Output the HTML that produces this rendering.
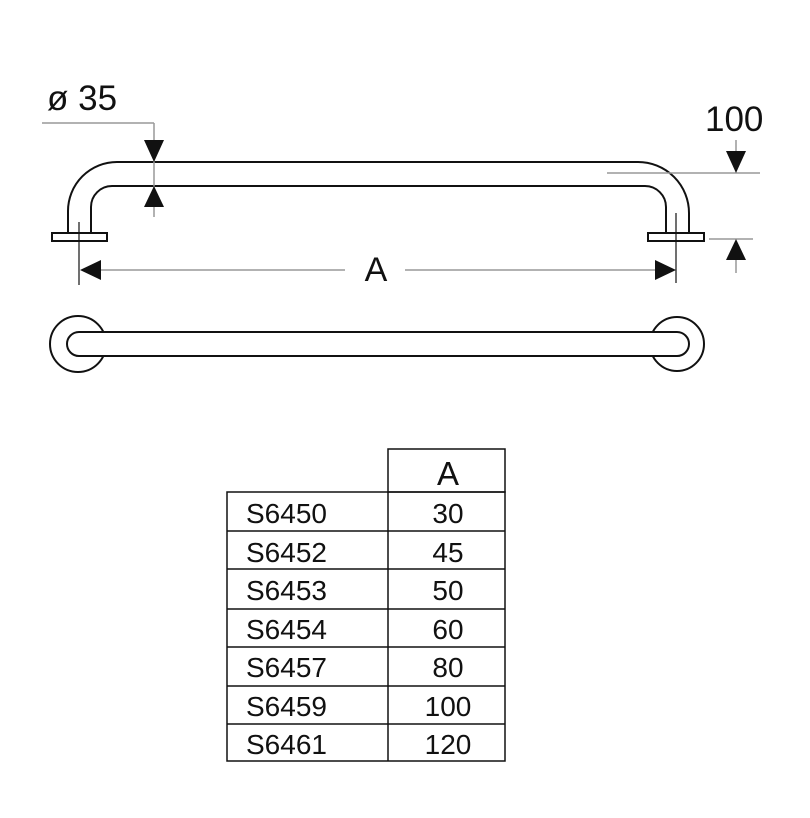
<!DOCTYPE html>
<html><head><meta charset="utf-8"><style>
html,body{margin:0;padding:0;background:#fff;}
svg{display:block;}
text{font-family:"Liberation Sans",Arial,sans-serif;fill:#111;}
</style></head><body>
<svg width="810" height="818" viewBox="0 0 810 818" xmlns="http://www.w3.org/2000/svg">
<g fill="none" stroke="#111" stroke-width="2">
<path d="M68 232 V211 A49 49 0 0 1 117 162 H638 A51 51 0 0 1 689 213 V233"/>
<path d="M91 232 V207 A21 21 0 0 1 112 186 H645 A21 21 0 0 1 666 207 V233"/>
<rect x="52" y="233" width="55" height="8"/>
<rect x="648" y="233" width="56" height="8"/>
<circle cx="78" cy="344" r="28"/>
<circle cx="677" cy="344" r="27"/>
</g>
<path d="M79 332 H677 A12 12 0 0 1 677 356 H79 A12 12 0 0 1 79 332 Z" fill="#fff" stroke="#111" stroke-width="2"/>
<g stroke="#111" stroke-width="1.2" fill="none">
<line x1="79" y1="222" x2="79" y2="285"/>
<line x1="676" y1="213" x2="676" y2="283"/>
</g>
<g stroke="#999" stroke-width="1.5" fill="none">
<line x1="42" y1="123" x2="154" y2="123"/>
<line x1="154" y1="123" x2="154" y2="217"/>
<line x1="95" y1="270" x2="345" y2="270"/>
<line x1="405" y1="270" x2="660" y2="270"/>
<line x1="607" y1="173" x2="760" y2="173"/>
<line x1="736" y1="140" x2="736" y2="160"/>
<line x1="709" y1="239" x2="753" y2="239"/>
<line x1="736" y1="250" x2="736" y2="273"/>
</g>
<g fill="#111">
<polygon points="154,162 144,140 164,140"/>
<polygon points="154,186 144,207 164,207"/>
<polygon points="80,270 101,260 101,280"/>
<polygon points="676,270 655,260 655,280"/>
<polygon points="736,173 726,151 746,151"/>
<polygon points="736,239 726,260 746,260"/>
</g>
<text x="47" y="110" font-size="35">ø 35</text>
<text x="705" y="131" font-size="35">100</text>
<text x="376" y="281" font-size="34" text-anchor="middle">A</text>
<g stroke="#111" stroke-width="1.5" fill="none">
<rect x="388" y="449" width="117" height="43"/>
<rect x="227" y="492" width="278" height="269"/>
<line x1="388" y1="492" x2="388" y2="761"/>
<line x1="227" y1="531" x2="505" y2="531"/>
<line x1="227" y1="569" x2="505" y2="569"/>
<line x1="227" y1="609" x2="505" y2="609"/>
<line x1="227" y1="647" x2="505" y2="647"/>
<line x1="227" y1="686" x2="505" y2="686"/>
<line x1="227" y1="724" x2="505" y2="724"/>
</g>
<g font-size="28">
<text x="448" y="485" font-size="33" text-anchor="middle">A</text>
<text x="246" y="523">S6450</text><text x="448" y="523" text-anchor="middle">30</text>
<text x="246" y="562">S6452</text><text x="448" y="562" text-anchor="middle">45</text>
<text x="246" y="600">S6453</text><text x="448" y="600" text-anchor="middle">50</text>
<text x="246" y="639">S6454</text><text x="448" y="639" text-anchor="middle">60</text>
<text x="246" y="677">S6457</text><text x="448" y="677" text-anchor="middle">80</text>
<text x="246" y="716">S6459</text><text x="448" y="716" text-anchor="middle">100</text>
<text x="246" y="754">S6461</text><text x="448" y="754" text-anchor="middle">120</text>
</g>
</svg>
</body></html>
